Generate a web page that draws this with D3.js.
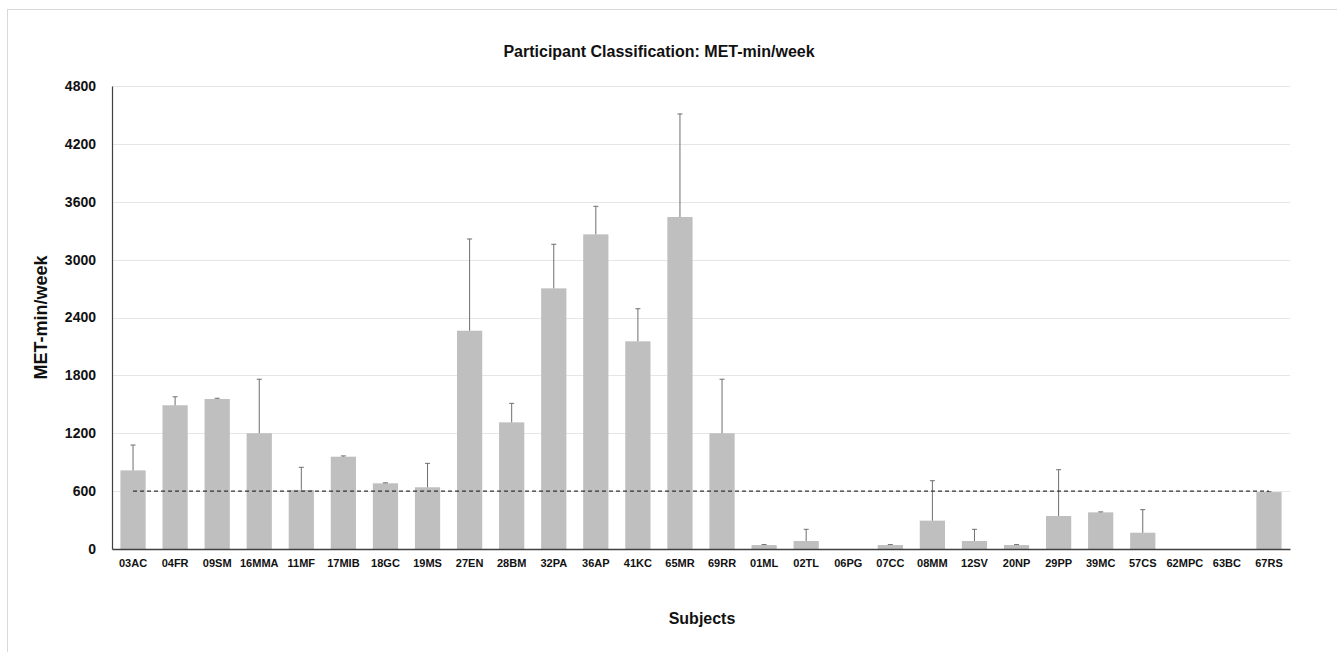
<!DOCTYPE html>
<html>
<head>
<meta charset="utf-8">
<script src="https://cdn.jsdelivr.net/npm/d3@7"></script>
<style>
  html, body { margin: 0; padding: 0; background: #ffffff; overflow: hidden; }
  svg { display: block; }
</style>
</head>
<body>
<svg id="chart" width="1337" height="652"></svg>
<script>
// Participant codes, in display order
const subjects = ["03AC","04FR","09SM","16MMA","11MF","17MIB","18GC","19MS","27EN","28BM",
  "32PA","36AP","41KC","65MR","69RR","01ML","02TL","06PG","07CC","08MM","12SV","20NP",
  "29PP","39MC","57CS","62MPC","63BC","67RS"];

// Mean MET-min/week per participant
const metValues = [815, 1490, 1555, 1200, 612, 957, 681, 640, 2263, 1313,
  2702, 3262, 2153, 3442, 1200, 41, 83, 0, 41, 294, 83, 41,
  342, 380, 169, 0, 0, 590];

// Upper error (added on top of each mean)
const metErrors = [263, 88, 8, 560, 235, 8, 5, 248, 951, 197,
  457, 291, 338, 1068, 560, 5, 121, 0, 5, 414, 121, 5,
  480, 5, 239, 0, 0, 5];

// Classification threshold
const threshold = 600;

// Y axis ticks
const yTicks = [0, 600, 1200, 1800, 2400, 3000, 3600, 4200, 4800];

const svg = d3.select("#chart");
const plotLeft = 112, plotRight = 1290, plotTop = 86, plotBottom = 549;

// Outer chart frame (only its top and left edges fall inside the view)
svg.append("rect")
  .attr("x", 7.5).attr("y", 9.5)
  .attr("width", 1400).attr("height", 700)
  .attr("fill", "none").attr("stroke", "#d9d9d9").attr("stroke-width", 1);

const x = d3.scaleBand().domain(subjects).range([plotLeft, plotRight]).paddingInner(0.4).paddingOuter(0.2);
const y = d3.scaleLinear().domain([0, 4800]).range([plotBottom, plotTop]);

// Horizontal gridlines
svg.append("g")
  .selectAll("line")
  .data(yTicks.filter(d => d > 0))
  .join("line")
  .attr("x1", plotLeft).attr("x2", plotRight)
  .attr("y1", d => Math.round(y(d)) + 0.5).attr("y2", d => Math.round(y(d)) + 0.5)
  .attr("stroke", "#e6e6e6").attr("stroke-width", 1);

// Y axis
const yAxis = svg.append("g")
  .attr("transform", `translate(${plotLeft},0)`)
  .call(d3.axisLeft(y).tickValues(yTicks).tickFormat(d3.format("d")).tickSize(0).tickPadding(16));
yAxis.select(".domain").attr("stroke", "#404040").attr("stroke-width", 1.2);
yAxis.selectAll("text")
  .attr("font-family", "'Liberation Sans', Arial, sans-serif")
  .attr("font-weight", "bold").attr("font-size", 14).attr("fill", "#111");

// Bars
svg.append("g")
  .selectAll("rect")
  .data(subjects)
  .join("rect")
  .attr("x", d => x(d))
  .attr("width", x.bandwidth())
  .attr("y", (d, i) => y(metValues[i]))
  .attr("height", (d, i) => y(0) - y(metValues[i]))
  .attr("fill", "#bfbfbf");

// Error bars (upper only)
const eb = svg.append("g").attr("stroke", "#6e6e6e").attr("stroke-width", 1);
subjects.forEach((s, i) => {
  if (metErrors[i] <= 0) return;
  const cx = x(s) + x.bandwidth() / 2;
  const y0 = y(metValues[i]);
  const y1 = y(metValues[i] + metErrors[i]);
  eb.append("line").attr("x1", cx).attr("x2", cx).attr("y1", y0).attr("y2", y1);
  eb.append("line").attr("x1", cx - 2.5).attr("x2", cx + 2.5).attr("y1", y1).attr("y2", y1);
});

// Threshold line
svg.append("line")
  .attr("x1", x(subjects[0]) + x.bandwidth() / 2)
  .attr("x2", x(subjects[subjects.length - 1]) + x.bandwidth() / 2)
  .attr("y1", y(threshold)).attr("y2", y(threshold))
  .attr("stroke", "#333").attr("stroke-width", 1.2)
  .attr("stroke-dasharray", "4,3");

// X axis
const xAxis = svg.append("g")
  .attr("transform", `translate(0,${plotBottom})`)
  .call(d3.axisBottom(x).tickSize(0).tickPadding(10));
xAxis.select(".domain").attr("stroke", "#404040").attr("stroke-width", 1.5);
xAxis.selectAll("text")
  .attr("font-family", "'Liberation Sans', Arial, sans-serif")
  .attr("font-weight", "bold").attr("font-size", 11).attr("fill", "#111");

// Titles
svg.append("text")
  .attr("x", 659).attr("y", 57)
  .attr("text-anchor", "middle")
  .attr("font-family", "'Liberation Sans', Arial, sans-serif")
  .attr("font-weight", "bold").attr("font-size", 16).attr("fill", "#111")
  .text("Participant Classification: MET-min/week");

svg.append("text")
  .attr("x", 702).attr("y", 624)
  .attr("text-anchor", "middle")
  .attr("font-family", "'Liberation Sans', Arial, sans-serif")
  .attr("font-weight", "bold").attr("font-size", 16).attr("fill", "#111")
  .text("Subjects");

svg.append("text")
  .attr("transform", `translate(47,${(plotTop + plotBottom) / 2}) rotate(-90)`)
  .attr("text-anchor", "middle")
  .attr("font-family", "'Liberation Sans', Arial, sans-serif")
  .attr("font-weight", "bold").attr("font-size", 18).attr("fill", "#111")
  .text("MET-min/week");
</script>
</body>
</html>
